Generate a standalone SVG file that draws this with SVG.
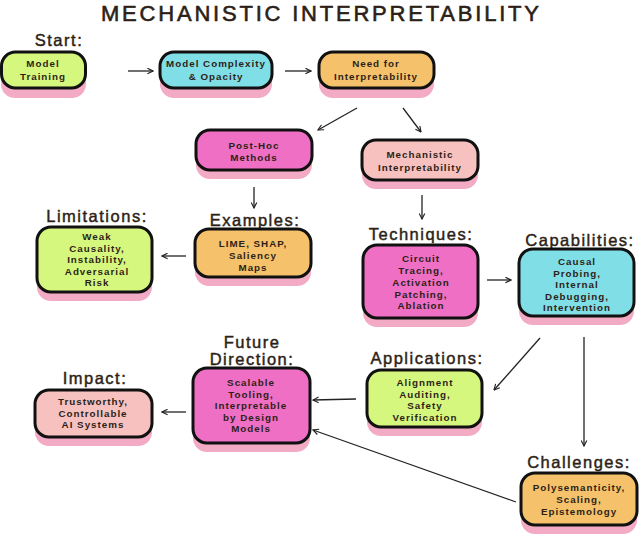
<svg xmlns="http://www.w3.org/2000/svg" width="640" height="535" viewBox="0 0 640 535">
<defs>
<style>
.sh{fill:#f3aac4;stroke:none}
.bx{stroke:#111;stroke-width:3}
.g{fill:#d6f77e}.c{fill:#80dee6}.o{fill:#f5c26b}.m{fill:#ee6fc4}.p{fill:#f6c1bf}
.t{font-family:"Liberation Sans",Arial,sans-serif;font-weight:700;font-size:9.8px;fill:#2d1f17;text-anchor:middle;letter-spacing:1px}
.h{font-family:"Liberation Sans",Arial,sans-serif;font-weight:400;font-size:16.5px;fill:#2d1f17;stroke:#2d1f17;stroke-width:0.45;text-anchor:middle;letter-spacing:1.5px}
.ttl{font-family:"Liberation Sans",Arial,sans-serif;font-weight:400;font-size:22px;fill:#2d1f17;stroke:#2d1f17;stroke-width:0.6;text-anchor:middle}
.cn{stroke:#222;stroke-width:1.3;fill:none;marker-end:url(#ah)}
</style>
<marker id="ah" viewBox="0 0 10 10" refX="9" refY="5" markerWidth="7" markerHeight="7" orient="auto" markerUnits="userSpaceOnUse">
<path d="M1,1 L9,5 L1,9" fill="none" stroke="#222" stroke-width="1.6"/>
</marker>
</defs>
<rect width="640" height="535" fill="#fff"/>
<text class="ttl" x="320" y="20.5" textLength="438" lengthAdjust="spacing">MECHANISTIC INTERPRETABILITY</text>

<g id="connectors">
<line class="cn" x1="128" y1="71" x2="153" y2="71"/>
<line class="cn" x1="285" y1="71" x2="311" y2="71"/>
<line class="cn" x1="357" y1="108" x2="318" y2="130"/>
<line class="cn" x1="403" y1="108" x2="421" y2="132"/>
<line class="cn" x1="254" y1="187" x2="254" y2="208"/>
<line class="cn" x1="186" y1="256" x2="162" y2="256"/>
<line class="cn" x1="422" y1="195" x2="422" y2="219"/>
<line class="cn" x1="487" y1="280" x2="511" y2="280"/>
<line class="cn" x1="540" y1="338" x2="494" y2="390"/>
<line class="cn" x1="584" y1="337" x2="584" y2="446"/>
<line class="cn" x1="356" y1="399" x2="313" y2="400"/>
<line class="cn" x1="516" y1="502" x2="313" y2="430"/>
<line class="cn" x1="186" y1="412" x2="162" y2="412"/>
</g>

<g id="start">
<text class="h" x="59" y="46">Start:</text>
<rect class="sh" x="1" y="61" width="85" height="37" rx="14"/>
<rect class="bx g" x="1.5" y="52" width="84" height="36" rx="14"/>
<text class="t" x="43" y="67">Model</text>
<text class="t" x="43" y="80">Training</text>
</g>

<g id="complexity">
<rect class="sh" x="160" y="61" width="112" height="37" rx="14"/>
<rect class="bx c" x="160" y="52" width="112" height="36" rx="14"/>
<text class="t" x="216" y="67">Model Complexity</text>
<text class="t" x="216" y="80">&amp; Opacity</text>
</g>

<g id="need">
<rect class="sh" x="319" y="61" width="115" height="37" rx="14"/>
<rect class="bx o" x="319" y="52" width="115" height="36" rx="14"/>
<text class="t" x="376" y="67">Need for</text>
<text class="t" x="376" y="80">Interpretability</text>
</g>

<g id="posthoc">
<rect class="sh" x="196" y="139" width="116" height="40" rx="14"/>
<rect class="bx m" x="196" y="130" width="116" height="40" rx="14"/>
<text class="t" x="254" y="149">Post-Hoc</text>
<text class="t" x="254" y="161">Methods</text>
</g>

<g id="mechanistic">
<rect class="sh" x="362" y="149" width="116" height="40" rx="14"/>
<rect class="bx p" x="362" y="140" width="116" height="40" rx="14"/>
<text class="t" x="420" y="158">Mechanistic</text>
<text class="t" x="420" y="171">Interpretability</text>
</g>

<g id="examples">
<text class="h" x="255" y="226">Examples:</text>
<rect class="sh" x="195" y="238" width="116" height="48" rx="14"/>
<rect class="bx o" x="195" y="229" width="116" height="48" rx="14"/>
<text class="t" x="253" y="247">LIME, SHAP,</text>
<text class="t" x="253" y="259">Saliency</text>
<text class="t" x="253" y="271">Maps</text>
</g>

<g id="limitations">
<text class="h" x="97" y="222">Limitations:</text>
<rect class="sh" x="37" y="236" width="115" height="65" rx="14"/>
<rect class="bx g" x="37" y="227" width="115" height="65" rx="14"/>
<text class="t" x="97" y="240">Weak</text>
<text class="t" x="97" y="251.5">Causality,</text>
<text class="t" x="97" y="263">Instability,</text>
<text class="t" x="97" y="274.5">Adversarial</text>
<text class="t" x="97" y="286">Risk</text>
</g>

<g id="techniques">
<text class="h" x="421" y="240">Techniques:</text>
<rect class="sh" x="363" y="254" width="115" height="73" rx="14"/>
<rect class="bx m" x="363" y="245" width="115" height="73" rx="14"/>
<text class="t" x="421" y="262">Circuit</text>
<text class="t" x="421" y="274">Tracing,</text>
<text class="t" x="421" y="286">Activation</text>
<text class="t" x="421" y="297.5">Patching,</text>
<text class="t" x="421" y="309">Ablation</text>
</g>

<g id="capabilities">
<text class="h" x="580" y="246">Capabilities:</text>
<rect class="sh" x="519" y="258" width="115" height="67" rx="14"/>
<rect class="bx c" x="519" y="249" width="115" height="67" rx="14"/>
<text class="t" x="577" y="265">Causal</text>
<text class="t" x="577" y="276.5">Probing,</text>
<text class="t" x="577" y="288">Internal</text>
<text class="t" x="577" y="299.5">Debugging,</text>
<text class="t" x="577" y="311">Intervention</text>
</g>

<g id="applications">
<text class="h" x="427" y="364">Applications:</text>
<rect class="sh" x="367" y="379" width="115" height="57" rx="14"/>
<rect class="bx g" x="367" y="370" width="115" height="57" rx="14"/>
<text class="t" x="425" y="386">Alignment</text>
<text class="t" x="425" y="397.5">Auditing,</text>
<text class="t" x="425" y="409">Safety</text>
<text class="t" x="425" y="420.5">Verification</text>
</g>

<g id="future">
<text class="h" x="252" y="348">Future</text>
<text class="h" x="252" y="365">Direction:</text>
<rect class="sh" x="193" y="377" width="117" height="75" rx="14"/>
<rect class="bx m" x="193" y="368" width="117" height="75" rx="14"/>
<text class="t" x="251" y="386">Scalable</text>
<text class="t" x="251" y="397.5">Tooling,</text>
<text class="t" x="251" y="409">Interpretable</text>
<text class="t" x="251" y="420.5">by Design</text>
<text class="t" x="251" y="432">Models</text>
</g>

<g id="impact">
<text class="h" x="95" y="384">Impact:</text>
<rect class="sh" x="35" y="399" width="117" height="47" rx="14"/>
<rect class="bx p" x="35" y="390" width="117" height="47" rx="14"/>
<text class="t" x="93" y="405">Trustworthy,</text>
<text class="t" x="93" y="416.5">Controllable</text>
<text class="t" x="93" y="428">AI Systems</text>
</g>

<g id="challenges">
<text class="h" x="579" y="468">Challenges:</text>
<rect class="sh" x="521" y="482" width="116" height="52" rx="14"/>
<rect class="bx o" x="521" y="473" width="116" height="52" rx="14"/>
<text class="t" x="579" y="491">Polysemanticity,</text>
<text class="t" x="579" y="503">Scaling,</text>
<text class="t" x="579" y="515">Epistemology</text>
</g>
</svg>
